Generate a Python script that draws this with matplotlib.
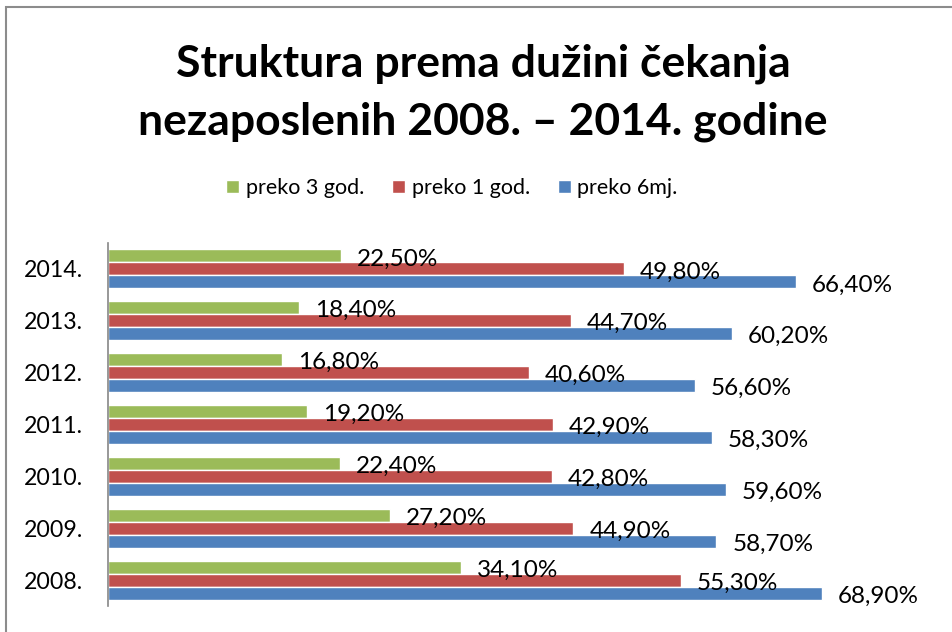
import matplotlib
matplotlib.use("Agg")
import matplotlib.pyplot as plt
from matplotlib.patches import Rectangle
import numpy as np

years = ["2008.", "2009.", "2010.", "2011.", "2012.", "2013.", "2014."]
preko_3_god = [34.10, 27.20, 22.40, 19.20, 16.80, 18.40, 22.50]
preko_1_god = [55.30, 44.90, 42.80, 42.90, 40.60, 44.70, 49.80]
preko_6mj = [68.90, 58.70, 59.60, 58.30, 56.60, 60.20, 66.40]
series_names = ["preko 3 god.", "preko 1 god.", "preko 6mj."]
colors = ["#9BBB59", "#C0504D", "#4F81BD"]

plt.rcParams['font.family'] = ['Lato', 'DejaVu Sans']

W, H = 953, 632
fig = plt.figure(figsize=(W / 100, H / 100), dpi=100)

# outer chart frame (top and left edges visible)
fig.patches.append(Rectangle((6 / W, -0.1), 1.2, 1.1 - 7 / H, transform=fig.transFigure,
                             fill=False, edgecolor="#8C8C8C", linewidth=1.5))

ax = fig.add_axes([108 / W, 26 / H, 829 / W, 363 / H])
y = np.arange(len(years))
h = 0.25
data = [preko_3_god, preko_1_god, preko_6mj]
offsets = [h, 0, -h]
for vals, c, off, name in zip(data, colors, offsets, series_names):
    ax.barh(y + off, vals, height=h, color=c, edgecolor="white", linewidth=1.0, label=name)
    for v, yy in zip(vals, y + off):
        ax.annotate(f"{v:.2f}".replace('.', ',') + "%", xy=(v, yy), xytext=(16, -3),
                    textcoords="offset pixels", ha="left", va="center", fontsize=17.5, color="black")

ax.set_xlim(0, 80)
ax.set_ylim(-0.5, len(years) - 0.5)
ax.set_yticks(y)
ax.set_yticklabels(years, fontsize=16.7)
ax.tick_params(axis='y', length=0, pad=18)
ax.set_xticks([])
for s in ["top", "right", "bottom"]:
    ax.spines[s].set_visible(False)
ax.spines["left"].set_color("#868686")
ax.spines["left"].set_linewidth(1.2)

fig.text(483 / W, 1 - 93 / H, "Struktura prema dužini čekanja\nnezaposlenih 2008. – 2014. godine",
         ha="center", va="center", fontsize=32, fontweight="bold", linespacing=1.52)

leg = fig.legend(loc="center", bbox_to_anchor=(452 / W, 1 - 188 / H), ncol=3, frameon=False,
                 fontsize=15.5, handlelength=0.6, handleheight=0.6, handletextpad=0.3,
                 columnspacing=1.3)

fig.savefig("out.png", dpi=100)
